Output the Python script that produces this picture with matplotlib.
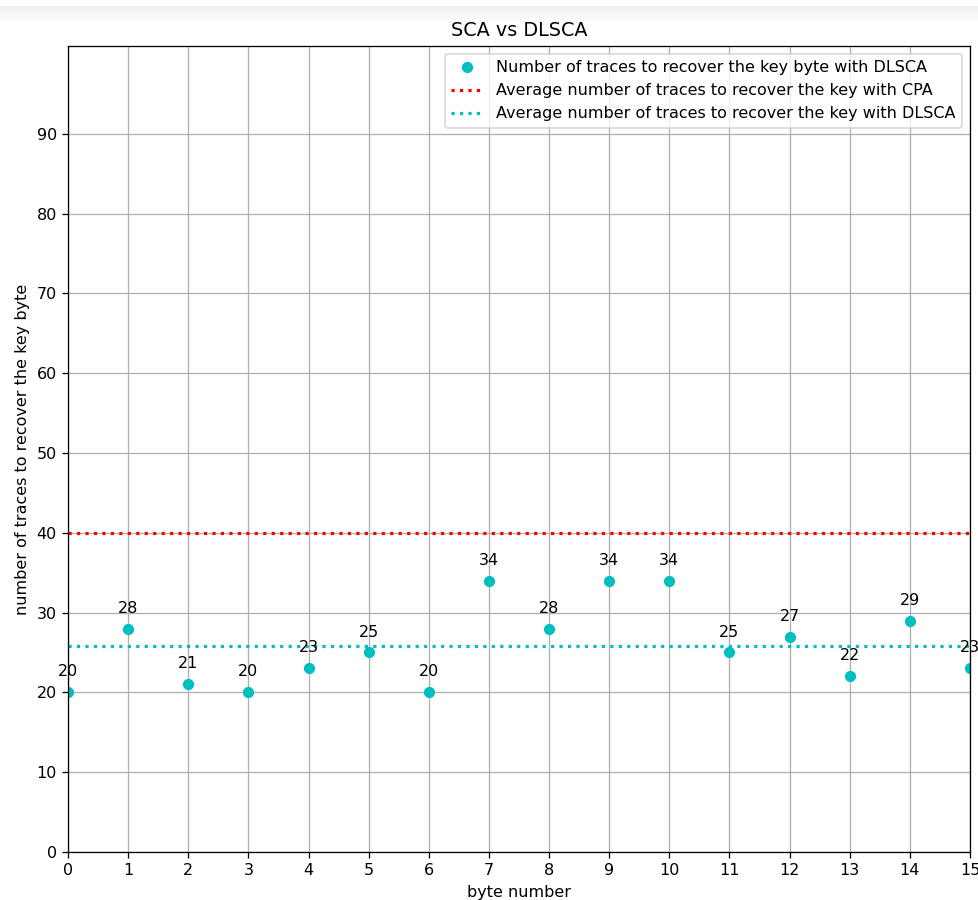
import matplotlib
matplotlib.use("Agg")
import matplotlib.pyplot as plt
import numpy as np

byte_numbers = list(range(16))
dlsca_traces = [20, 28, 21, 20, 23, 25, 20, 34, 28, 34, 34, 25, 27, 22, 29, 23]
cpa_average = 40
dlsca_average = np.mean(dlsca_traces)

DPI = 115
W, H = 979, 900
fig = plt.figure(figsize=(W / DPI, H / DPI), dpi=DPI)

# faint shaded strip along the top edge
band = fig.add_axes([0, 1 - 24 / H, 1, 18 / H])
grad = np.linspace(0.93, 1.0, 32).reshape(-1, 1)
band.imshow(grad, aspect="auto", cmap="gray", vmin=0, vmax=1,
            extent=[0, 1, 0, 1])
band.set_axis_off()

ax = fig.add_axes([68 / W, 48 / H, 902 / W, 806 / H])

ax.plot(byte_numbers, dlsca_traces, "o", color="c", markersize=6,
        label="Number of traces to recover the key byte with DLSCA")
ax.axhline(cpa_average, color="r", linestyle=":", linewidth=2,
           label="Average number of traces to recover the key with CPA")
ax.axhline(dlsca_average, color="c", linestyle=":", linewidth=2,
           label="Average number of traces to recover the key with DLSCA")

for x, y in zip(byte_numbers, dlsca_traces):
    ax.annotate(str(y), (x, y), textcoords="offset points", xytext=(0, 10),
                ha="center")

ax.set_xlim(0, 15)
ax.set_ylim(0, 101)
ax.set_xticks(byte_numbers)
ax.set_yticks(range(0, 100, 10))
ax.grid(True)
ax.set_axisbelow(True)
ax.set_title("SCA vs DLSCA")
ax.set_xlabel("byte number")
ax.set_ylabel("number of traces to recover the key byte")
ax.legend(loc="upper right")

fig.savefig("out.png", dpi=DPI)
